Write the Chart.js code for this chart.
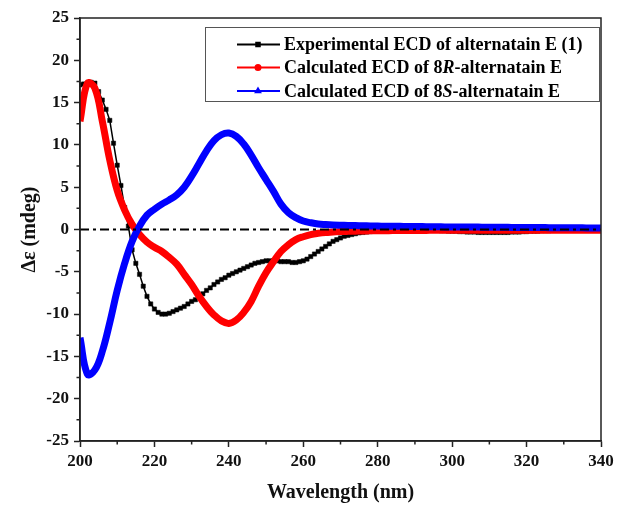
<!DOCTYPE html>
<html>
<head>
<meta charset="utf-8">
<script src="https://cdn.jsdelivr.net/npm/chart.js@4.4.1/dist/chart.umd.min.js"></script>
<style>
  html, body { margin: 0; padding: 0; background: #fff; }
  #wrap { width: 618px; height: 509px; }
</style>
</head>
<body>
<div id="wrap"><canvas id="ecdChart" width="618" height="509"></canvas></div>
<script>
// Data

// experimental spectrum, 1 nm steps
const expWavelengths = [
    200, 201, 202, 203, 204, 205, 206, 207, 208, 209,
    210, 211, 212, 213, 214, 215, 216, 217, 218, 219,
    220, 221, 222, 223, 224, 225, 226, 227, 228, 229,
    230, 231, 232, 233, 234, 235, 236, 237, 238, 239,
    240, 241, 242, 243, 244, 245, 246, 247, 248, 249,
    250, 251, 252, 253, 254, 255, 256, 257, 258, 259,
    260, 261, 262, 263, 264, 265, 266, 267, 268, 269,
    270, 271, 272, 273, 274, 275, 276, 277, 278, 279,
    280, 281, 282, 283, 284, 285, 286, 287, 288, 289,
    290, 291, 292, 293, 294, 295, 296, 297, 298, 299,
    300, 301, 302, 303, 304, 305, 306, 307, 308, 309,
    310, 311, 312, 313, 314, 315, 316, 317, 318, 319,
    320, 321, 322, 323, 324, 325, 326, 327, 328, 329,
    330, 331, 332, 333, 334, 335, 336, 337, 338, 339,
    340
];
const expValues = [
    17.1, 17.2, 17.3, 17.4, 17.3, 16.3, 15.3, 14.2, 12.9, 10.2,
    7.6, 5.2, 2.6, 0.4, -2.4, -4.0, -5.3, -6.7, -7.9, -8.8,
    -9.4, -9.8, -10.0, -10.0, -9.9, -9.7, -9.5, -9.3, -9.1, -8.8,
    -8.5, -8.3, -8.0, -7.6, -7.2, -6.9, -6.5, -6.2, -5.9, -5.7,
    -5.4, -5.2, -5.0, -4.8, -4.6, -4.4, -4.2, -4.0, -3.9, -3.8,
    -3.7, -3.7, -3.7, -3.7, -3.8, -3.8, -3.8, -3.9, -3.9, -3.8,
    -3.7, -3.5, -3.2, -2.9, -2.6, -2.3, -2.0, -1.7, -1.4, -1.2,
    -1.0, -0.8, -0.7, -0.6, -0.5, -0.4, -0.35, -0.3, -0.25, -0.2,
    -0.2, -0.2, -0.15, -0.15, -0.15, -0.1, -0.1, -0.1, -0.1, -0.1,
    -0.1, -0.1, -0.1, -0.1, -0.1, -0.1, -0.1, -0.15, -0.15, -0.2,
    -0.2, -0.2, -0.25, -0.25, -0.3, -0.3, -0.3, -0.35, -0.35, -0.35,
    -0.35, -0.35, -0.35, -0.35, -0.35, -0.35, -0.3, -0.3, -0.3, -0.25,
    -0.25, -0.2, -0.2, -0.2, -0.15, -0.15, -0.15, -0.1, -0.1, -0.1,
    -0.1, -0.1, -0.05, -0.05, -0.05, -0.05, 0, 0, 0, 0,
    0
];

// calculated spectra, 2 nm steps
const calcWavelengths = [
    200, 202, 204, 206, 208, 210, 212, 214, 216, 218,
    220, 222, 224, 226, 228, 230, 232, 234, 236, 238,
    240, 242, 244, 246, 248, 250, 252, 254, 256, 258,
    260, 262, 264, 266, 268, 270, 272, 274, 276, 278,
    280, 282, 284, 286, 288, 290, 292, 294, 296, 298,
    300, 302, 304, 306, 308, 310, 312, 314, 316, 318,
    320, 322, 324, 326, 328, 330, 332, 334, 336, 338,
    340
];
const calc8RValues = [
    12.8, 17.3, 16.7, 12.8, 8.2, 4.6, 2.3, 0.6, -0.6, -1.5,
    -2.1, -2.6, -3.3, -4.1, -5.3, -6.5, -7.9, -9.1, -10.1, -10.8,
    -11.1, -10.7, -9.8, -8.5, -6.7, -5.1, -3.8, -2.6, -1.8, -1.2,
    -0.85, -0.6, -0.45, -0.35, -0.3, -0.25, -0.22, -0.2, -0.18, -0.16,
    -0.15, -0.14, -0.13, -0.12, -0.12, -0.11, -0.11, -0.1, -0.1, -0.1,
    -0.1, -0.1, -0.1, -0.1, -0.1, -0.1, -0.1, -0.1, -0.1, -0.1,
    -0.1, -0.1, -0.1, -0.1, -0.1, -0.1, -0.1, -0.1, -0.1, -0.1,
    -0.1
];
const calc8SValues = [
    -12.8, -17.1, -16.6, -14.4, -11.0, -7.2, -4.0, -1.4, 0.4, 1.7,
    2.4, 3.0, 3.5, 4.1, 5.0, 6.3, 7.8, 9.3, 10.5, 11.2,
    11.4, 11.0, 10.1, 8.8, 7.3, 5.9, 4.5, 3.0, 2.0, 1.4,
    1.0, 0.8, 0.65, 0.58, 0.53, 0.5, 0.48, 0.46, 0.44, 0.42,
    0.4, 0.39, 0.38, 0.37, 0.36, 0.35, 0.34, 0.33, 0.32, 0.31,
    0.3, 0.3, 0.29, 0.29, 0.28, 0.27, 0.27, 0.26, 0.25, 0.25,
    0.24, 0.23, 0.23, 0.22, 0.21, 0.21, 0.2, 0.2, 0.19, 0.19,
    0.18
];

// legend text, split where the italic letter goes
const seriesLabels = [
    [['Experimental ECD of alternatain E (1)', false]],
    [['Calculated ECD of 8', false], ['R', true], ['-alternatain E', false]],
    [['Calculated ECD of 8', false], ['S', true], ['-alternatain E', false]]
];
const seriesColors = ['#000000', '#ff0000', '#0000ff'];
const seriesMarkers = ['rect', 'circle', 'triangle'];

const SERIF = '"Liberation Serif", "Times New Roman", serif';

function toPoints(xs, ys) {
    return xs.map((w, i) => ({ x: w, y: ys[i] }));
}

// frame, zero line, minor ticks and legend
const ecdDecor = {
    id: 'ecdDecor',
    afterDatasetsDraw(chart) {
        const { ctx, chartArea: a, scales } = chart;
        const y0 = scales.y.getPixelForValue(0);
        ctx.save();
        ctx.strokeStyle = '#000';
        ctx.lineWidth = 2;
        ctx.setLineDash([9, 4, 3, 4]);
        ctx.beginPath();
        ctx.moveTo(a.left, y0);
        ctx.lineTo(a.right, y0);
        ctx.stroke();
        ctx.restore();
    },
    afterDraw(chart) {
        const { ctx, chartArea: a, scales } = chart;
        ctx.save();

        // box round the plot
        ctx.strokeStyle = '#222';
        ctx.lineWidth = 1.5;
        ctx.strokeRect(a.left, a.top, a.right - a.left, a.bottom - a.top);

        // short minor ticks
        ctx.beginPath();
        scales.x.ticks.forEach(t => {
            if (t.value % 20 !== 0) {
                const px = scales.x.getPixelForValue(t.value);
                ctx.moveTo(px, a.bottom);
                ctx.lineTo(px, a.bottom + 3.5);
            }
        });
        scales.y.ticks.forEach(t => {
            if (t.value % 5 !== 0) {
                const py = scales.y.getPixelForValue(t.value);
                ctx.moveTo(a.left, py);
                ctx.lineTo(a.left - 3.5, py);
            }
        });
        ctx.stroke();

        // legend
        const box = { left: 205, top: 27, right: 599, bottom: 101 };
        ctx.fillStyle = '#fff';
        ctx.fillRect(box.left, box.top, box.right - box.left, box.bottom - box.top);
        ctx.strokeStyle = '#555';
        ctx.lineWidth = 1;
        ctx.strokeRect(box.left + 0.5, box.top + 0.5, box.right - box.left, box.bottom - box.top);

        const rowY = [44.5, 67.5, 91];
        seriesLabels.forEach((parts, i) => {
            const y = rowY[i];
            ctx.strokeStyle = seriesColors[i];
            ctx.lineWidth = 2;
            ctx.beginPath();
            ctx.moveTo(237, y);
            ctx.lineTo(280, y);
            ctx.stroke();
            ctx.fillStyle = seriesColors[i];
            Chart.helpers.drawPoint(ctx, { pointStyle: seriesMarkers[i], radius: 2.5, borderWidth: 1 }, 258, y);

            let x = 284;
            ctx.fillStyle = '#000';
            ctx.textBaseline = 'middle';
            parts.forEach(([txt, italic]) => {
                ctx.font = (italic ? 'italic ' : '') + 'bold 18px ' + SERIF;
                ctx.fillText(txt, x, y + 1);
                x += ctx.measureText(txt).width;
            });
        });
        ctx.restore();
    }
};

const ctx = document.getElementById('ecdChart').getContext('2d');
new Chart(ctx, {
    type: 'line',
    data: {
        datasets: [
            {
                label: 'Experimental ECD of alternatain E (1)',
                data: toPoints(expWavelengths, expValues),
                borderColor: seriesColors[0],
                backgroundColor: seriesColors[0],
                borderWidth: 1.5,
                pointStyle: 'rect',
                pointRadius: 3,
                pointBorderWidth: 0.5,
                tension: 0,
                order: 3
            },
            {
                label: 'Calculated ECD of 8R-alternatain E',
                data: toPoints(calcWavelengths, calc8RValues),
                borderColor: seriesColors[1],
                backgroundColor: seriesColors[1],
                borderWidth: 7,
                pointRadius: 0,
                tension: 0.4,
                order: 2
            },
            {
                label: 'Calculated ECD of 8S-alternatain E',
                data: toPoints(calcWavelengths, calc8SValues),
                borderColor: seriesColors[2],
                backgroundColor: seriesColors[2],
                borderWidth: 7,
                pointRadius: 0,
                tension: 0.4,
                order: 1
            }
        ]
    },
    options: {
        responsive: false,
        animation: false,
        layout: { padding: { top: 18, right: 17, left: 0, bottom: 0 } },
        plugins: {
            legend: { display: false },
            tooltip: { enabled: false }
        },
        scales: {
            x: {
                type: 'linear',
                min: 200,
                max: 340,
                afterFit: s => { s.height = 68; },
                border: { display: true, color: '#222', width: 1.5 },
                grid: {
                    drawOnChartArea: false,
                    drawTicks: true,
                    tickLength: 6,
                    tickWidth: 1.5,
                    tickColor: c => (c.tick && c.tick.value % 20 === 0) ? '#222' : 'rgba(0,0,0,0)'
                },
                ticks: {
                    stepSize: 10,
                    autoSkip: false,
                    maxRotation: 0,
                    padding: 4,
                    color: '#111',
                    font: { family: SERIF, size: 17, weight: 'bold' },
                    callback: v => (v % 20 === 0 ? v : '')
                },
                title: {
                    display: true,
                    text: 'Wavelength (nm)',
                    color: '#111',
                    padding: { top: 0, bottom: 4 },
                    font: { family: SERIF, size: 20, weight: 'bold' }
                }
            },
            y: {
                min: -25,
                max: 25,
                afterFit: s => { s.width = 80; },
                border: { display: true, color: '#222', width: 1.5 },
                grid: {
                    drawOnChartArea: false,
                    drawTicks: true,
                    tickLength: 6,
                    tickWidth: 1.5,
                    tickColor: c => (c.tick && c.tick.value % 5 === 0) ? '#222' : 'rgba(0,0,0,0)'
                },
                ticks: {
                    stepSize: 2.5,
                    autoSkip: false,
                    padding: 5,
                    color: '#111',
                    font: { family: SERIF, size: 17, weight: 'bold' },
                    callback: v => (v % 5 === 0 ? v : '')
                },
                title: {
                    display: true,
                    text: 'Δε (mdeg)',
                    color: '#111',
                    padding: { top: 18, bottom: 0 },
                    font: { family: SERIF, size: 20, weight: 'bold' }
                }
            }
        }
    },
    plugins: [ecdDecor]
});
</script>
</body>
</html>
